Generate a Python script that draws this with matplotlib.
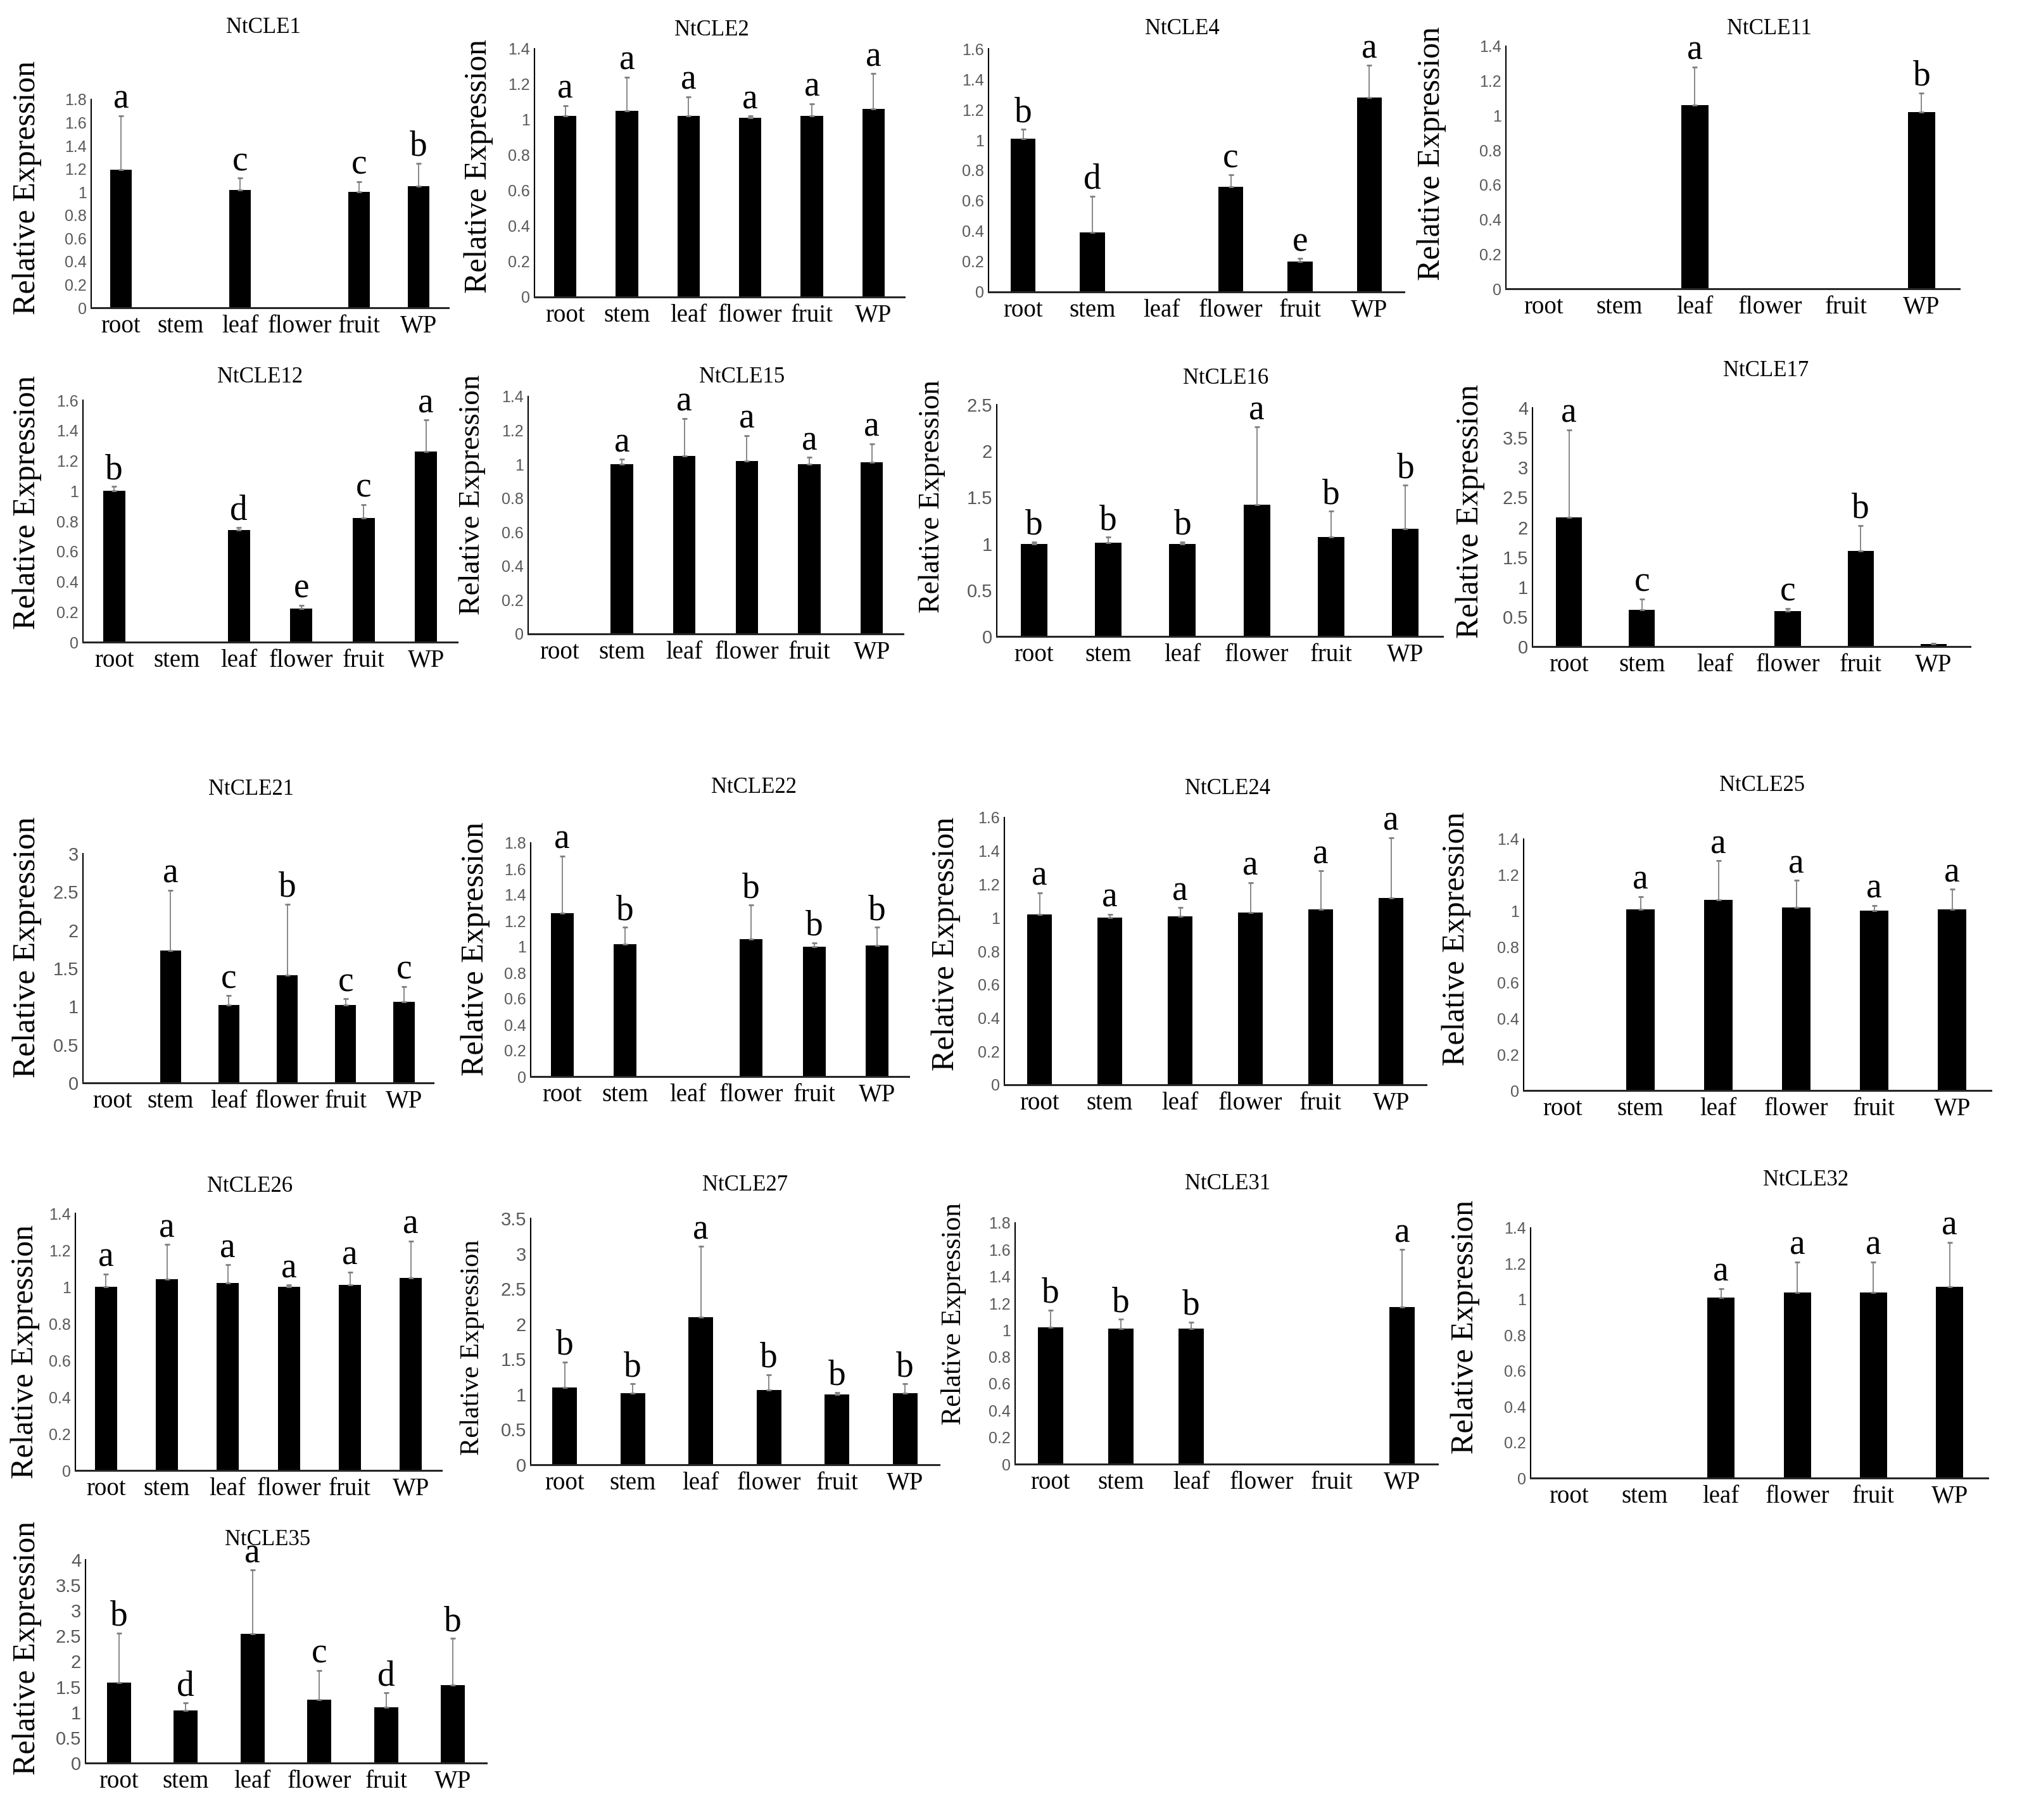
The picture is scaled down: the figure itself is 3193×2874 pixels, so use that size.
import numpy as np
import matplotlib.pyplot as plt

W, H = 3193, 2874

tissues = ['root', 'stem', 'leaf', 'flower', 'fruit', 'WP']
genes = ['NtCLE1', 'NtCLE2', 'NtCLE4', 'NtCLE11', 'NtCLE12', 'NtCLE15', 'NtCLE16', 'NtCLE17',
         'NtCLE21', 'NtCLE22', 'NtCLE24', 'NtCLE25', 'NtCLE26', 'NtCLE27', 'NtCLE31', 'NtCLE32',
         'NtCLE35']

# mean relative expression, order of tissues
means = [
    [1.19, 0, 1.02, 0, 1.00, 1.05],
    [1.02, 1.05, 1.02, 1.01, 1.02, 1.06],
    [1.01, 0.39, 0, 0.69, 0.20, 1.28],
    [0, 0, 1.06, 0, 0, 1.02],
    [1.00, 0, 0.74, 0.22, 0.82, 1.26],
    [0, 1.00, 1.05, 1.02, 1.00, 1.01],
    [1.00, 1.01, 1.00, 1.42, 1.07, 1.16],
    [2.16, 0.62, 0, 0.59, 1.60, 0.04],
    [0, 1.73, 1.02, 1.41, 1.02, 1.06],
    [1.26, 1.02, 0, 1.06, 1.00, 1.01],
    [1.02, 1.00, 1.01, 1.03, 1.05, 1.12],
    [0, 1.01, 1.06, 1.02, 1.00, 1.01],
    [1.00, 1.04, 1.02, 1.00, 1.01, 1.05],
    [1.10, 1.02, 2.10, 1.06, 1.00, 1.02],
    [1.02, 1.01, 1.01, 0, 0, 1.17],
    [0, 0, 1.01, 1.04, 1.04, 1.07],
    [1.58, 1.04, 2.54, 1.25, 1.10, 1.53],
]
# standard deviations
sds = [
    [0.47, 0, 0.10, 0, 0.09, 0.20],
    [0.06, 0.19, 0.11, 0.01, 0.07, 0.20],
    [0.06, 0.24, 0, 0.08, 0.02, 0.21],
    [0, 0, 0.22, 0, 0, 0.11],
    [0.03, 0, 0.02, 0.025, 0.09, 0.21],
    [0, 0.03, 0.22, 0.15, 0.04, 0.11],
    [0.02, 0.06, 0.02, 0.84, 0.28, 0.47],
    [1.47, 0.18, 0, 0.05, 0.43, 0.01],
    [0, 0.79, 0.12, 0.93, 0.08, 0.20],
    [0.44, 0.13, 0, 0.26, 0.03, 0.14],
    [0.13, 0.02, 0.05, 0.18, 0.23, 0.36],
    [0, 0.07, 0.22, 0.15, 0.03, 0.11],
    [0.07, 0.19, 0.10, 0.01, 0.07, 0.20],
    [0.36, 0.13, 1.00, 0.22, 0.03, 0.13],
    [0.13, 0.07, 0.05, 0, 0, 0.43],
    [0, 0, 0.05, 0.17, 0.17, 0.25],
    [0.98, 0.14, 1.26, 0.57, 0.28, 0.92],
]
letters = [
    ['a', '', 'c', '', 'c', 'b'],
    ['a', 'a', 'a', 'a', 'a', 'a'],
    ['b', 'd', '', 'c', 'e', 'a'],
    ['', '', 'a', '', '', 'b'],
    ['b', '', 'd', 'e', 'c', 'a'],
    ['', 'a', 'a', 'a', 'a', 'a'],
    ['b', 'b', 'b', 'a', 'b', 'b'],
    ['a', 'c', '', 'c', 'b', ''],
    ['', 'a', 'c', 'b', 'c', 'c'],
    ['a', 'b', '', 'b', 'b', 'b'],
    ['a', 'a', 'a', 'a', 'a', 'a'],
    ['', 'a', 'a', 'a', 'a', 'a'],
    ['a', 'a', 'a', 'a', 'a', 'a'],
    ['b', 'b', 'a', 'b', 'b', 'b'],
    ['b', 'b', 'b', '', '', 'a'],
    ['', '', 'a', 'a', 'a', 'a'],
    ['b', 'd', 'a', 'c', 'd', 'b'],
]
ymax = [1.8, 1.4, 1.6, 1.4, 1.6, 1.4, 2.5, 4, 3, 1.8, 1.6, 1.4, 1.4, 3.5, 1.8, 1.4, 4]
ystep = [0.2, 0.2, 0.2, 0.2, 0.2, 0.2, 0.5, 0.5, 0.5, 0.2, 0.2, 0.2, 0.2, 0.5, 0.2, 0.2, 0.5]

# layout in pixels of the picture: left, right, top of y axis, zero line
boxes = [
    (144, 708, 157, 486), (844, 1428, 77, 469), (1561, 2217, 77, 461), (2378, 3094, 73, 456),
    (131, 722, 632, 1014), (834, 1426, 626, 1001), (1574, 2278, 639, 1005), (2420, 3111, 644, 1021),
    (131, 684, 1348, 1710), (838, 1435, 1331, 1700), (1586, 2252, 1291, 1713), (2406, 3144, 1325, 1722),
    (119, 697, 1916, 2322), (838, 1483, 1924, 2313), (1603, 2270, 1931, 2312), (2417, 3139, 1939, 2334),
    (135, 768, 2463, 2784),
]
title_pos = [
    (416, 43), (1124, 48), (1867, 46), (2794, 46),
    (411, 595), (1172, 595), (1936, 598), (2789, 586),
    (397, 1247), (1191, 1243), (1939, 1245), (2783, 1241),
    (395, 1874), (1177, 1872), (1939, 1870), (2852, 1863),
    (423, 2432),
]
ylab_pos = [
    (43, 296), (756, 262), None, (2261, 242),
    (43, 793), (746, 781), (1472, 784), (2322, 807),
    (43, 1496), (751, 1498), (1494, 1490), (2300, 1482),
    (40, 2134), (746, 2128), (1506, 2075), (2314, 2095),
    (43, 2602),
]
ylab_size = [36, 36, 36, 36, 36, 34, 33, 36, 37, 36, 36, 36, 36, 30.5, 31.5, 36, 36]

SERIF = 'Liberation Serif'

fig = plt.figure(figsize=(W / 100, H / 100), dpi=100)

for i, gene in enumerate(genes):
    x0, x1, yt, yz = boxes[i]
    ax = fig.add_axes([x0 / W, 1 - yz / H, (x1 - x0) / W, (yz - yt) / H])
    xs = np.arange(len(tissues))
    m = np.array(means[i], dtype=float)
    s = np.array(sds[i], dtype=float)

    ax.bar(xs, m, width=0.36, color='black', zorder=2)
    shown = m > 0
    ax.errorbar(xs[shown], m[shown], yerr=[np.zeros(shown.sum()), s[shown]], fmt='none',
                ecolor='#7f7f7f', elinewidth=1.3, capsize=3, capthick=2, zorder=3)
    for x, v, e, lab in zip(xs, m, s, letters[i]):
        if lab:
            ax.annotate(lab, (x, v + e), xytext=(0, 0), textcoords='offset points',
                        ha='center', va='bottom', fontsize=40, family=SERIF,
                        annotation_clip=False)

    ax.set_xlim(-0.5, len(tissues) - 0.5)
    ax.set_ylim(0, ymax[i])
    yt_vals = np.round(np.arange(0, ymax[i] + 1e-9, ystep[i]), 2)
    ax.set_yticks(yt_vals, labels=[f'{v:g}' for v in yt_vals], fontsize=18 if ystep[i] < 0.5 else 21,
                  color='#595959', family='Liberation Sans')
    ax.set_xticks(xs, labels=tissues, fontsize=28, family=SERIF)
    ax.tick_params(axis='both', length=0)
    ax.tick_params(axis='x', pad=8)
    ax.tick_params(axis='y', pad=5)
    for side in ['top', 'right']:
        ax.spines[side].set_visible(False)
    ax.spines['left'].set_linewidth(1.5)
    ax.spines['bottom'].set_linewidth(2.2)
    ax.spines['bottom'].set_color('#262626')

    tx, ty = title_pos[i]
    fig.text(tx / W, 1 - ty / H, gene, ha='center', va='center', fontsize=25, family=SERIF)
    if ylab_pos[i] is not None:
        lx, ly = ylab_pos[i]
        fig.text(lx / W, 1 - ly / H, 'Relative Expression', rotation=90, ha='center', va='center',
                 fontsize=ylab_size[i], family=SERIF)

fig.savefig('out.png', dpi=100, facecolor='white')
